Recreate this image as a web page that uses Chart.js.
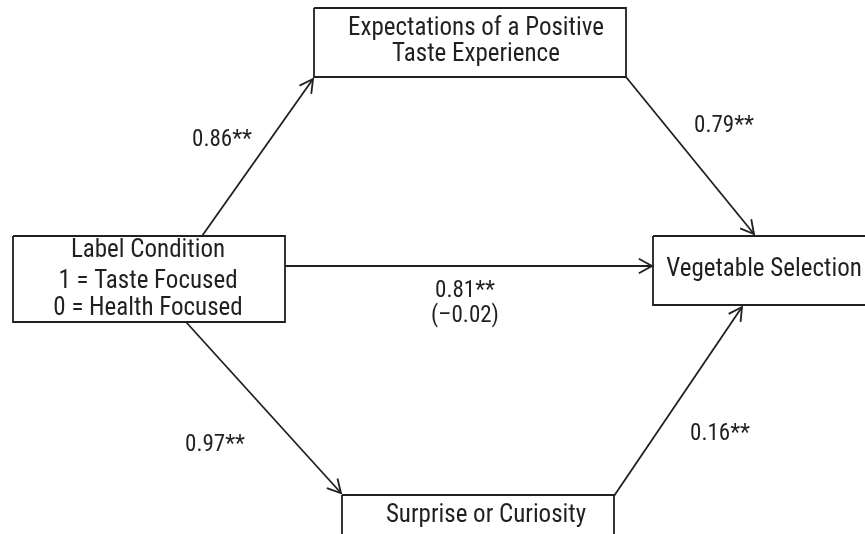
<!DOCTYPE html>
<html>
<head>
<meta charset="utf-8">
<script src="https://cdn.jsdelivr.net/npm/chart.js@4"></script>
<style>
  html, body { margin: 0; padding: 0; background: #fff; }
  #pathChart { display: block; }
</style>
</head>
<body>
<canvas id="pathChart" width="865" height="534"></canvas>
<script>
// path model: boxes (nodes) and the arrows between them
const nodeLines = [
    ['Label Condition', '1 = Taste Focused', '0 = Health Focused'],
    ['Expectations of a Positive', 'Taste Experience'],
    ['Vegetable Selection'],
    ['Surprise or Curiosity']
];
const nodeLeft = [13, 314, 653, 342];
const nodeTop = [236, 8, 236, 495];
const nodeRight = [285, 626, 875, 614];
const nodeBottom = [322, 77, 305, 545];

// path coefficients, one per arrow
const pathCoef = ['0.86**', '0.79**', '0.81**', '0.97**', '0.16**'];
const pathNote = ['', '', '(\u20130.02)', '', ''];
const pathStartX = [202, 626, 285, 186, 614];
const pathStartY = [236, 77, 266, 322, 496];
const pathEndX = [313, 754, 652, 341, 742];
const pathEndY = [79, 234, 266, 493, 307];

// where the texts sit
const nodeTextX = [148, 476, 764, 486];
const nodeTextY = [[251, 282, 309], [29, 55], [270], [516]];
const coefX = [222, 724, 465, 215, 720];
const coefY = [140, 126, 291, 445, 434];
const noteY = [0, 0, 316, 0, 0];

const ink = '#231f20';
const font = '"Liberation Sans Narrow", "Arial Narrow", "Roboto Condensed", sans-serif';

const datasets = [];
nodeLeft.forEach((l, i) => {
    datasets.push({
        data: [
            {x: l, y: nodeTop[i]},
            {x: nodeRight[i], y: nodeTop[i]},
            {x: nodeRight[i], y: nodeBottom[i]},
            {x: l, y: nodeBottom[i]},
            {x: l, y: nodeTop[i]}
        ],
        kind: 'box'
    });
});
pathStartX.forEach((sx, i) => {
    datasets.push({
        data: [{x: sx, y: pathStartY[i]}, {x: pathEndX[i], y: pathEndY[i]}],
        kind: 'arrow'
    });
});
datasets.forEach(d => {
    d.showLine = true;
    d.pointRadius = 0;
    d.borderColor = ink;
    d.borderWidth = 1.8;
    d.fill = false;
});

const arrowHeads = {
    id: 'arrowHeads',
    afterDatasetsDraw(chart) {
        const ctx = chart.ctx;
        ctx.save();
        ctx.strokeStyle = ink;
        ctx.lineWidth = 1.8;
        chart.data.datasets.forEach((d, i) => {
            if (d.kind !== 'arrow') return;
            const pts = chart.getDatasetMeta(i).data;
            const a = pts[0], b = pts[1];
            const ang = Math.atan2(b.y - a.y, b.x - a.x);
            const len = 15, spread = 0.5;
            ctx.beginPath();
            ctx.moveTo(b.x - len * Math.cos(ang - spread), b.y - len * Math.sin(ang - spread));
            ctx.lineTo(b.x, b.y);
            ctx.lineTo(b.x - len * Math.cos(ang + spread), b.y - len * Math.sin(ang + spread));
            ctx.stroke();
        });
        ctx.restore();
    }
};

const diagramText = {
    id: 'diagramText',
    afterDraw(chart) {
        const ctx = chart.ctx;
        const xs = chart.scales.x, ys = chart.scales.y;
        ctx.save();
        ctx.fillStyle = ink;
        ctx.textAlign = 'center';
        ctx.textBaseline = 'middle';
        ctx.font = '25px ' + font;
        nodeLines.forEach((lines, i) => {
            lines.forEach((t, j) => {
                ctx.fillText(t, xs.getPixelForValue(nodeTextX[i]), ys.getPixelForValue(nodeTextY[i][j]));
            });
        });
        ctx.font = '23px ' + font;
        pathCoef.forEach((t, i) => {
            ctx.fillText(t, xs.getPixelForValue(coefX[i]), ys.getPixelForValue(coefY[i]));
            if (pathNote[i]) {
                ctx.fillText(pathNote[i], xs.getPixelForValue(coefX[i]), ys.getPixelForValue(noteY[i]));
            }
        });
        ctx.restore();
    }
};

const chart = new Chart(document.getElementById('pathChart'), {
    type: 'scatter',
    data: { datasets: datasets },
    options: {
        responsive: false,
        animation: false,
        events: [],
        layout: { padding: 0 },
        plugins: { legend: { display: false }, tooltip: { enabled: false } },
        scales: {
            x: { type: 'linear', min: 0, max: 865, display: false },
            y: { type: 'linear', min: 0, max: 534, reverse: true, display: false }
        }
    },
    plugins: [arrowHeads, diagramText]
});
</script>
</body>
</html>
